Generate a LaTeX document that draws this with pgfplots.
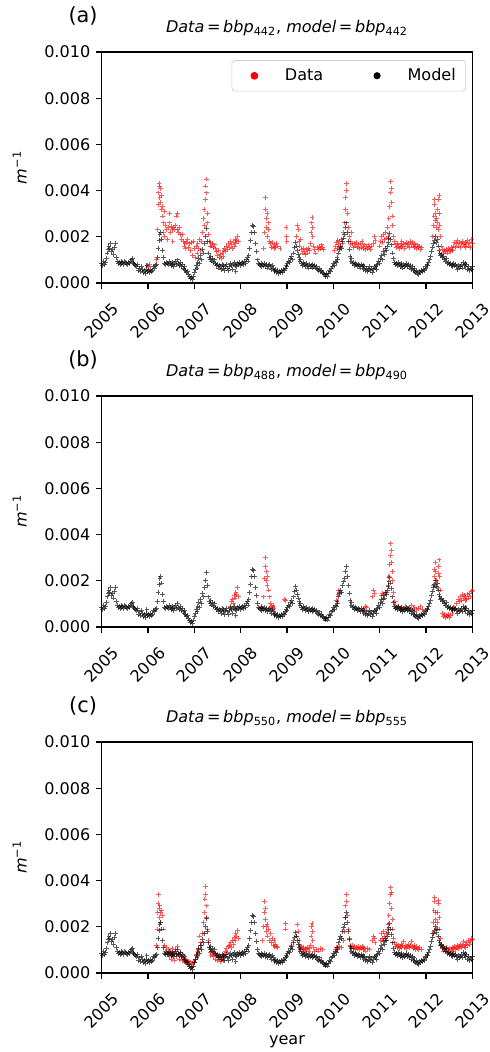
\documentclass[border=0pt]{standalone}
\usepackage{fontspec}
\setmainfont{DejaVu Sans}
\usepackage{pgfplots}
\pgfplotsset{compat=1.18}
\usepackage{pgfplotstable}

% values in units of 1e-3 m^-1, time as year-2000
\pgfplotstableread{
x y
5.00 0.85
5.02 0.75
5.04 0.95
5.06 0.80
5.08 0.90
5.10 1.05
5.12 1.30
5.14 1.45
5.16 1.60
5.18 1.50
5.20 1.70
5.22 1.35
5.24 1.45
5.26 1.25
5.28 1.55
5.30 1.70
5.32 1.10
5.34 0.95
5.36 0.85
5.38 0.90
5.40 0.80
5.42 0.95
5.44 0.85
5.46 0.90
5.48 0.80
5.50 0.95
5.52 0.90
5.54 0.85
5.56 0.80
5.58 0.90
5.60 0.85
5.62 0.95
5.64 1.00
5.66 1.05
5.68 0.90
5.70 0.85
5.72 0.80
5.74 0.75
5.76 0.70
5.78 0.80
5.80 0.55
5.82 0.65
5.84 0.50
5.86 0.70
5.88 0.60
5.90 0.45
5.92 0.55
5.94 0.40
5.96 0.60
5.98 0.75
6.00 0.50
6.02 0.55
6.04 0.45
6.06 0.60
6.08 0.50
6.10 0.55
6.12 0.70
6.14 0.65
6.16 0.75
6.18 0.80
6.20 1.10
6.22 1.50
6.24 1.85
6.26 2.10
6.28 2.20
6.30 1.90
6.32 1.40
6.34 1.10
6.36 0.85
6.38 0.80
6.40 0.90
6.42 0.85
6.44 0.80
6.46 0.95
6.48 0.85
6.50 0.75
6.52 0.90
6.54 0.80
6.56 0.70
6.58 0.85
6.60 0.95
6.62 0.80
6.64 1.00
6.66 0.85
6.68 0.75
6.70 0.90
6.72 0.70
6.74 0.80
6.76 0.65
6.78 0.60
6.80 0.70
6.82 0.55
6.84 0.45
6.86 0.50
6.88 0.35
6.90 0.30
6.92 0.20
6.94 0.25
6.96 0.15
6.98 0.30
7.00 0.45
7.02 0.60
7.04 0.75
7.06 0.65
7.08 0.90
7.10 1.05
7.12 0.85
7.14 1.20
7.16 1.00
7.18 1.45
7.20 1.30
7.22 1.70
7.24 2.00
7.26 2.35
7.28 1.80
7.30 1.30
7.32 1.10
7.34 1.00
7.36 1.15
7.38 0.95
7.40 1.05
7.42 0.90
7.44 1.00
7.46 0.85
7.48 0.75
7.50 0.80
7.52 0.65
7.54 0.75
7.56 0.70
7.58 0.60
7.60 0.80
7.62 0.65
7.64 0.75
7.66 0.55
7.68 0.70
7.70 0.80
7.72 0.65
7.74 0.55
7.76 0.70
7.78 0.85
7.80 0.75
7.82 0.60
7.84 0.80
7.86 0.90
7.88 0.75
7.90 0.50
7.92 0.70
7.94 0.85
7.96 0.80
7.98 0.90
8.00 0.75
8.02 0.85
8.04 0.90
8.06 0.80
8.08 0.95
8.10 0.85
8.12 1.00
8.14 1.10
8.16 0.95
8.18 1.20
8.20 1.50
8.22 1.85
8.24 2.20
8.26 2.50
8.28 2.45
8.30 2.20
8.32 1.70
8.34 1.35
8.36 1.00
8.38 0.85
8.40 0.80
8.42 0.75
8.44 0.85
8.46 0.70
8.48 0.80
8.50 0.75
8.52 0.85
8.54 0.70
8.56 0.80
8.58 0.65
8.60 0.75
8.62 0.80
8.64 0.70
8.66 0.60
8.68 0.75
8.70 0.65
8.72 0.55
8.74 0.50
8.76 0.60
8.78 0.45
8.80 0.55
8.82 0.40
8.84 0.50
8.86 0.45
8.88 0.55
8.90 0.45
8.92 0.60
8.94 0.55
8.96 0.65
8.98 0.75
9.00 0.70
9.02 0.85
9.04 0.95
9.06 0.90
9.08 1.05
9.10 1.15
9.12 1.00
9.14 1.30
9.16 1.55
9.18 1.75
9.20 1.60
9.22 1.40
9.24 1.25
9.26 1.10
9.28 0.95
9.30 1.00
9.32 0.85
9.34 0.75
9.36 0.90
9.38 0.80
9.40 0.70
9.42 0.85
9.44 0.75
9.46 0.65
9.48 0.80
9.50 0.70
9.52 0.75
9.54 0.65
9.56 0.80
9.58 0.70
9.60 0.75
9.62 0.65
9.64 0.70
9.66 0.60
9.68 0.55
9.70 0.65
9.72 0.50
9.74 0.55
9.76 0.45
9.78 0.40
9.80 0.35
9.82 0.30
9.84 0.35
9.86 0.40
9.88 0.30
9.90 0.40
9.92 0.55
9.94 0.50
9.96 0.65
9.98 0.70
10.00 0.85
10.02 0.75
10.04 0.95
10.06 0.90
10.08 1.10
10.10 1.00
10.12 1.30
10.14 1.45
10.16 1.60
10.18 1.50
10.20 1.80
10.22 1.95
10.24 2.10
10.26 2.40
10.28 2.60
10.30 2.20
10.32 1.80
10.34 1.45
10.36 1.15
10.38 0.95
10.40 1.05
10.42 0.85
10.44 0.90
10.46 0.75
10.48 0.85
10.50 0.80
10.52 0.70
10.54 0.80
10.56 0.75
10.58 0.65
10.60 0.80
10.62 0.70
10.64 0.75
10.66 0.60
10.68 0.70
10.70 0.55
10.72 0.65
10.74 0.50
10.76 0.60
10.78 0.70
10.80 0.55
10.82 0.65
10.84 0.45
10.86 0.60
10.88 0.70
10.90 0.65
10.92 0.75
10.94 0.60
10.96 0.80
10.98 0.95
11.00 0.85
11.02 1.05
11.04 1.20
11.06 1.00
11.08 1.35
11.10 1.25
11.12 1.50
11.14 1.40
11.16 1.60
11.18 1.75
11.20 1.95
11.22 2.15
11.24 1.90
11.26 1.65
11.28 1.30
11.30 1.05
11.32 0.90
11.34 0.80
11.36 0.85
11.38 0.75
11.40 0.90
11.42 0.80
11.44 0.70
11.46 0.85
11.48 0.75
11.50 0.65
11.52 0.80
11.54 0.70
11.56 0.75
11.58 0.85
11.60 0.70
11.62 0.80
11.64 0.65
11.66 0.75
11.68 0.60
11.70 0.70
11.72 0.55
11.74 0.65
11.76 0.50
11.78 0.45
11.80 0.55
11.82 0.40
11.84 0.35
11.86 0.50
11.88 0.45
11.90 0.55
11.92 0.50
11.94 0.60
11.96 0.55
11.98 0.70
12.00 0.65
12.02 0.80
12.04 0.75
12.06 0.90
12.08 1.00
12.10 1.15
12.12 1.35
12.14 1.55
12.16 1.70
12.18 1.85
12.20 2.00
12.22 1.75
12.24 1.90
12.26 1.60
12.28 1.40
12.30 1.30
12.32 1.20
12.34 1.25
12.36 1.10
12.38 1.15
12.40 1.00
12.42 0.95
12.44 1.05
12.46 0.85
12.48 0.90
12.50 0.80
12.52 0.85
12.54 0.75
12.56 0.80
12.58 0.70
12.60 0.85
12.62 0.75
12.64 0.80
12.66 0.70
12.68 0.60
12.70 0.75
12.72 0.65
12.74 0.70
12.76 0.80
12.78 0.65
12.80 0.90
12.82 0.75
12.84 0.85
12.86 0.70
12.88 0.80
12.90 0.60
12.92 0.70
12.94 0.55
12.96 0.65
12.98 0.60
13.00 0.70
}\model

\pgfplotstableread{
x y
6.00 0.75
6.02 0.70
6.04 0.80
6.18 1.00
6.20 2.30
6.22 3.40
6.23 3.90
6.24 4.30
6.25 4.20
6.26 3.70
6.27 4.10
6.28 3.50
6.29 3.20
6.30 3.80
6.31 2.90
6.32 3.30
6.33 2.60
6.34 2.20
6.35 3.10
6.36 2.00
6.38 2.50
6.40 2.30
6.42 1.90
6.44 2.40
6.46 2.60
6.47 3.00
6.48 2.20
6.50 2.45
6.52 2.30
6.54 1.80
6.56 2.40
6.58 2.30
6.60 2.50
6.62 2.90
6.63 3.00
6.64 2.30
6.66 2.20
6.68 2.40
6.70 2.10
6.72 1.90
6.74 2.10
6.76 1.80
6.78 1.60
6.80 1.70
6.82 1.50
6.84 1.75
6.86 1.90
6.88 1.55
6.90 1.70
6.92 1.40
6.94 1.75
6.96 1.20
6.98 1.80
7.00 1.50
7.02 1.10
7.04 1.60
7.06 1.30
7.08 1.70
7.10 1.50
7.12 1.90
7.14 1.40
7.16 1.80
7.18 2.20
7.20 2.80
7.21 3.20
7.22 2.50
7.24 3.60
7.25 4.20
7.26 4.50
7.27 3.90
7.28 3.00
7.29 2.60
7.30 2.10
7.32 1.80
7.34 1.60
7.36 1.75
7.38 1.60
7.40 1.70
7.42 1.55
7.44 1.65
7.46 1.50
7.48 1.35
7.50 1.20
7.52 1.40
7.54 1.10
7.56 1.25
7.58 1.05
7.60 1.30
7.62 1.15
7.64 1.40
7.66 1.50
7.68 1.35
7.70 1.60
7.72 1.45
7.74 1.70
7.76 1.55
7.78 1.80
7.80 1.65
7.82 1.50
7.84 1.75
7.86 1.60
7.88 1.90
7.90 1.70
7.92 1.85
7.94 2.00
7.96 1.80
8.50 1.50
8.52 2.20
8.53 3.20
8.54 3.70
8.55 2.80
8.56 2.40
8.57 3.00
8.58 2.00
8.60 2.60
8.61 2.30
8.62 1.80
8.64 1.70
8.66 1.55
8.68 1.75
8.70 1.60
8.72 1.50
8.74 1.65
8.76 1.55
8.78 1.70
8.80 1.60
8.85 1.50
8.98 2.40
8.99 2.00
9.00 1.80
9.20 2.00
9.22 2.50
9.24 2.30
9.26 1.80
9.28 1.60
9.30 1.90
9.32 1.45
9.34 1.30
9.36 1.50
9.38 1.35
9.40 1.25
9.42 1.45
9.44 1.30
9.46 1.50
9.48 1.40
9.50 1.70
9.52 2.20
9.53 2.60
9.54 2.85
9.55 2.40
9.56 2.00
9.58 1.60
9.60 1.45
9.62 1.30
9.66 1.55
9.68 1.45
9.70 1.60
9.72 1.50
9.74 1.65
9.76 1.55
9.78 1.45
10.02 1.40
10.04 1.60
10.06 1.75
10.08 1.50
10.10 1.85
10.12 1.65
10.14 1.80
10.16 1.55
10.18 1.90
10.20 1.70
10.22 2.20
10.24 2.60
10.26 3.20
10.27 3.70
10.28 4.30
10.29 4.00
10.30 3.00
10.32 2.40
10.34 2.00
10.36 1.80
10.38 1.65
10.40 2.20
10.42 1.70
10.44 1.55
10.46 1.70
10.48 1.60
10.50 1.75
10.52 1.55
10.54 1.65
10.56 1.50
10.58 1.70
10.60 1.55
10.62 1.80
10.64 1.60
10.66 1.50
10.68 1.65
10.70 1.45
10.72 1.60
10.74 1.50
10.76 1.65
10.78 1.55
10.80 1.45
10.82 1.60
10.86 1.70
10.88 2.00
10.90 1.85
11.00 1.60
11.02 1.80
11.04 2.00
11.06 1.75
11.08 2.10
11.10 1.90
11.12 2.20
11.14 1.95
11.16 2.40
11.18 2.00
11.20 2.80
11.22 3.30
11.23 3.90
11.24 4.40
11.25 4.10
11.26 3.50
11.27 2.90
11.28 2.50
11.30 2.00
11.32 1.80
11.34 1.65
11.36 1.55
11.38 1.70
11.40 1.60
11.42 1.50
11.44 1.65
11.46 1.55
11.48 1.80
11.50 1.60
11.52 1.70
11.54 1.50
11.56 1.65
11.58 1.75
11.60 1.60
11.62 1.70
11.64 1.55
11.66 1.80
11.68 1.65
11.70 1.75
11.72 1.60
11.74 1.55
11.76 1.70
11.78 1.60
11.80 1.50
11.82 1.65
11.84 1.55
11.86 1.60
11.88 1.45
11.90 1.55
12.14 2.00
12.16 2.50
12.17 2.90
12.18 3.40
12.19 3.60
12.20 2.70
12.21 3.00
12.22 2.40
12.23 2.80
12.24 3.20
12.25 2.60
12.26 2.30
12.27 3.60
12.28 3.80
12.29 3.00
12.30 2.50
12.32 2.00
12.34 1.60
12.36 1.45
12.38 1.30
12.40 1.40
12.42 1.35
12.44 1.45
12.46 1.30
12.48 1.50
12.50 1.40
12.52 1.35
12.54 1.55
12.56 1.45
12.58 1.40
12.60 1.60
12.62 1.75
12.64 1.55
12.66 1.70
12.68 1.85
12.70 1.60
12.72 1.75
12.74 1.55
12.76 1.70
12.78 1.80
12.80 1.65
12.82 1.60
12.84 1.75
12.86 1.55
12.88 1.70
12.90 1.85
12.92 1.60
12.94 1.75
12.96 1.55
12.98 1.90
13.00 1.70
}\dataA

\pgfplotstableread{
x y
7.78 0.90
7.80 1.10
7.82 1.20
7.84 1.00
7.86 1.35
7.88 1.25
7.90 1.50
7.92 1.40
7.94 1.70
7.96 1.30
8.46 0.90
8.48 0.80
8.50 1.30
8.52 2.10
8.53 2.60
8.54 3.00
8.55 2.40
8.56 2.00
8.57 1.80
8.58 2.20
8.60 1.60
8.62 1.30
8.64 1.00
8.66 0.90
8.68 0.85
8.70 0.95
8.72 0.80
8.95 1.20
8.96 1.15
10.06 1.15
10.10 1.40
10.12 1.60
10.14 1.50
10.70 0.90
10.72 0.85
10.84 1.30
10.86 1.60
10.88 1.45
11.04 1.35
11.06 1.45
11.08 1.20
11.14 1.50
11.18 1.80
11.20 2.20
11.22 2.70
11.23 3.10
11.24 3.60
11.25 3.30
11.26 2.80
11.27 2.40
11.28 2.00
11.30 1.50
11.32 1.10
11.34 0.95
11.36 0.85
11.40 0.90
11.44 0.80
11.48 0.85
11.52 0.75
11.56 0.90
11.60 0.80
11.64 0.85
11.68 0.95
11.72 0.80
11.76 0.85
11.80 0.75
11.84 0.80
11.88 0.90
11.92 0.75
12.16 1.80
12.18 2.20
12.19 2.50
12.20 2.80
12.21 2.40
12.22 2.00
12.24 1.70
12.26 2.30
12.27 2.60
12.28 2.90
12.30 2.20
12.32 1.60
12.36 0.60
12.38 0.45
12.40 0.55
12.42 0.40
12.44 0.50
12.46 0.45
12.48 0.55
12.50 0.40
12.52 0.50
12.56 0.60
12.62 0.80
12.66 1.00
12.70 1.20
12.72 1.10
12.74 1.30
12.76 1.15
12.78 1.40
12.80 1.25
12.82 1.35
12.84 1.15
12.86 1.30
12.88 1.20
12.90 1.40
12.92 1.25
12.94 1.45
12.96 1.30
12.98 1.55
13.00 1.60
}\dataB

\pgfplotstableread{
x y
6.18 1.20
6.20 1.90
6.21 2.60
6.22 3.00
6.23 3.40
6.24 2.80
6.25 2.40
6.26 2.90
6.27 2.60
6.28 2.20
6.30 2.70
6.32 2.50
6.34 1.90
6.36 1.20
6.38 0.95
6.40 1.10
6.42 0.80
6.44 1.00
6.46 0.70
6.48 0.90
6.50 0.60
6.52 1.05
6.54 0.75
6.56 0.85
6.58 0.55
6.60 1.00
6.62 0.70
6.64 1.15
6.66 0.80
6.68 0.60
6.70 0.90
6.72 0.70
6.74 0.55
6.76 0.75
6.78 0.50
6.80 0.60
6.82 0.45
6.84 0.55
6.86 0.40
6.88 0.50
6.90 0.35
6.92 0.45
6.94 0.30
6.96 0.40
6.98 0.50
7.00 0.45
7.02 0.60
7.04 0.80
7.06 0.70
7.08 0.95
7.10 1.00
7.12 1.60
7.14 1.30
7.16 1.20
7.18 1.70
7.20 2.20
7.22 2.60
7.23 3.20
7.24 3.75
7.25 3.40
7.26 2.90
7.27 2.40
7.28 1.90
7.30 1.40
7.32 1.10
7.34 0.90
7.36 0.75
7.38 0.95
7.40 0.80
7.42 0.70
7.44 0.85
7.46 0.60
7.48 0.75
7.50 0.55
7.52 0.70
7.54 0.65
7.56 0.50
7.58 0.60
7.60 0.70
7.62 0.55
7.64 0.75
7.66 0.80
7.68 0.95
7.70 1.05
7.72 0.90
7.74 1.15
7.76 1.20
7.78 1.30
7.80 1.10
7.82 1.40
7.84 1.25
7.86 1.55
7.88 1.40
7.90 1.70
7.92 1.60
7.94 1.85
7.96 1.50
8.48 1.40
8.50 2.00
8.51 2.60
8.52 3.10
8.53 2.80
8.54 2.30
8.55 2.00
8.56 1.80
8.57 2.10
8.58 1.60
8.60 1.90
8.62 1.40
8.64 1.70
8.66 1.30
8.68 1.50
8.70 1.20
8.72 1.40
8.74 1.15
8.76 1.25
8.78 1.15
8.80 1.10
8.96 1.90
8.97 2.15
9.10 1.20
9.14 1.40
9.20 1.60
9.22 2.10
9.24 1.80
9.26 1.40
9.28 1.20
9.30 1.05
9.32 1.15
9.34 1.00
9.36 1.10
9.38 0.95
9.40 1.05
9.42 1.00
9.44 1.10
9.46 0.95
9.48 1.05
9.50 1.20
9.52 1.60
9.53 2.00
9.54 2.15
9.55 1.80
9.56 1.40
9.58 1.10
9.60 0.95
9.64 1.00
9.68 0.95
9.72 1.05
9.76 1.00
10.04 1.00
10.06 1.10
10.10 1.05
10.14 1.15
10.18 1.10
10.22 1.40
10.24 1.80
10.26 2.40
10.27 2.90
10.28 3.40
10.29 3.10
10.30 2.50
10.32 1.90
10.34 1.50
10.36 1.20
10.38 1.10
10.42 1.20
10.44 1.05
10.46 1.15
10.48 1.00
10.50 1.10
10.52 1.05
10.54 1.15
10.56 1.00
10.58 1.10
10.60 1.05
10.62 1.15
10.64 1.00
10.66 1.10
10.68 1.05
10.70 0.95
10.74 1.05
10.78 1.00
10.84 1.40
10.86 1.60
10.88 1.50
10.90 1.30
11.02 1.40
11.04 1.70
11.06 1.50
11.08 1.80
11.10 1.60
11.12 1.40
11.14 1.70
11.16 1.90
11.18 2.10
11.20 2.50
11.22 3.00
11.23 3.40
11.24 3.70
11.25 3.50
11.26 2.80
11.27 2.30
11.28 1.90
11.30 1.50
11.32 1.30
11.34 1.15
11.36 1.25
11.38 1.10
11.40 1.20
11.42 1.05
11.44 1.15
11.46 1.25
11.48 1.10
11.50 1.20
11.52 1.35
11.54 1.10
11.56 1.20
11.58 1.05
11.60 1.15
11.62 1.25
11.64 1.10
11.66 1.20
11.68 1.35
11.70 1.15
11.72 1.05
11.74 1.20
11.76 1.10
11.78 1.00
11.80 1.15
11.82 1.05
11.84 1.00
11.86 1.10
11.90 1.00
12.14 1.70
12.16 2.20
12.17 2.70
12.18 3.10
12.19 3.25
12.20 2.60
12.21 2.30
12.22 1.90
12.24 2.20
12.25 2.60
12.26 3.00
12.27 3.15
12.28 2.40
12.30 1.90
12.32 1.50
12.34 1.20
12.36 1.05
12.38 0.95
12.40 1.05
12.42 0.95
12.44 1.10
12.46 1.00
12.48 0.95
12.50 1.05
12.52 0.90
12.54 1.00
12.56 1.10
12.58 0.95
12.60 1.05
12.62 1.15
12.64 1.00
12.66 1.10
12.68 1.20
12.70 1.05
12.72 1.15
12.74 1.25
12.76 1.10
12.78 1.20
12.80 1.35
12.82 1.15
12.84 1.25
12.86 1.10
12.88 1.30
12.90 1.20
12.92 1.40
12.94 1.25
12.96 1.35
12.98 1.50
13.00 1.45
}\dataC

\pgfplotsset{
  panel/.style={
    anchor=south west, scale only axis,
    width=230.9bp, height=143.8bp,
    xmin=5, xmax=13, ymin=0, ymax=10,
    xtick={5,6,7,8,9,10,11,12,13},
    xticklabels={2005,2006,2007,2008,2009,2010,2011,2012,2013},
    ytick={0,2,4,6,8,10},
    yticklabels={0.000,0.002,0.004,0.006,0.008,0.010},
    tick align=outside, tick pos=left,
    major tick length=3.5bp,
    axis line style={line width=0.8bp},
    every tick/.style={black, line width=0.8bp},
    tick label style={font=\fontsize{10bp}{12bp}\selectfont},
    xticklabel style={anchor=center, yshift=-20bp, rotate=45},
    ylabel={\textit{m}\textsuperscript{−1}},
    every axis y label/.style={at={(axis description cs:0,0.5)}, xshift=-51bp, rotate=90, anchor=center, font=\fontsize{10bp}{12bp}\selectfont},
  },
  datapt/.style={only marks, mark=+, mark size=1.5bp, red, line width=0.6bp, opacity=0.65},
  modpt/.style={only marks, mark=+, mark size=1.5bp, black, line width=0.6bp, opacity=0.65},
  dotimg/.style={legend image code/.code={%
      \path[draw=none, fill=none] (0bp,-3bp) rectangle (27bp,3bp);
      \draw[##1, mark repeat=2, mark phase=2] plot coordinates {(0bp,0bp) (10bp,0bp) (20bp,0bp)};}},
}

\newcommand{\ttl}[2]{\fontsize{10bp}{12bp}\selectfont\textit{Data}\,=\,\textit{bbp}\textsubscript{#1}, \textit{model}\,=\,\textit{bbp}\textsubscript{#2}}

\begin{document}
\begin{tikzpicture}
\path[use as bounding box] (0,0) rectangle (305bp,654.9bp);

\begin{axis}[panel, name=pa, at={(63.2bp,478.7bp)},
  legend columns=2,
  legend style={at={(0.982,0.965)}, anchor=north east, draw=black!20, rounded corners=2bp,
    font=\fontsize{10bp}{12bp}\selectfont, inner xsep=4bp, inner ysep=3bp,
    /tikz/every even column/.append style={column sep=21.5bp}},
]
\addplot[datapt, forget plot] table {\dataA};
\addplot[modpt, forget plot] table {\model};
\addlegendimage{only marks, mark=*, red, mark size=2.2bp, dotimg}
\addlegendentry{Data}
\addlegendimage{only marks, mark=*, black, mark size=2bp, dotimg}
\addlegendentry{Model}
\end{axis}
\node[font=\fontsize{13bp}{15bp}\selectfont] at ([xshift=-11.5bp, yshift=22.4bp]pa.north west) {(a)};
\node at ([yshift=14.9bp]pa.north) {\ttl{442}{442}};

\begin{axis}[panel, name=pb, at={(63.2bp,264.6bp)}]
\addplot[datapt] table {\dataB};
\addplot[modpt] table {\model};
\end{axis}
\node[font=\fontsize{13bp}{15bp}\selectfont] at ([xshift=-11.5bp, yshift=22.4bp]pb.north west) {(b)};
\node at ([yshift=14.9bp]pb.north) {\ttl{488}{490}};

\begin{axis}[panel, name=pc, at={(63.2bp,49.2bp)},
  xlabel={year},
  every axis x label/.style={at={(axis description cs:0.5,0)}, yshift=-42.5bp, anchor=center, font=\fontsize{10bp}{12bp}\selectfont}]
\addplot[datapt] table {\dataC};
\addplot[modpt] table {\model};
\end{axis}
\node[font=\fontsize{13bp}{15bp}\selectfont] at ([xshift=-11.5bp, yshift=22.4bp]pc.north west) {(c)};
\node at ([yshift=14.9bp]pc.north) {\ttl{550}{555}};
\end{tikzpicture}
\end{document}
